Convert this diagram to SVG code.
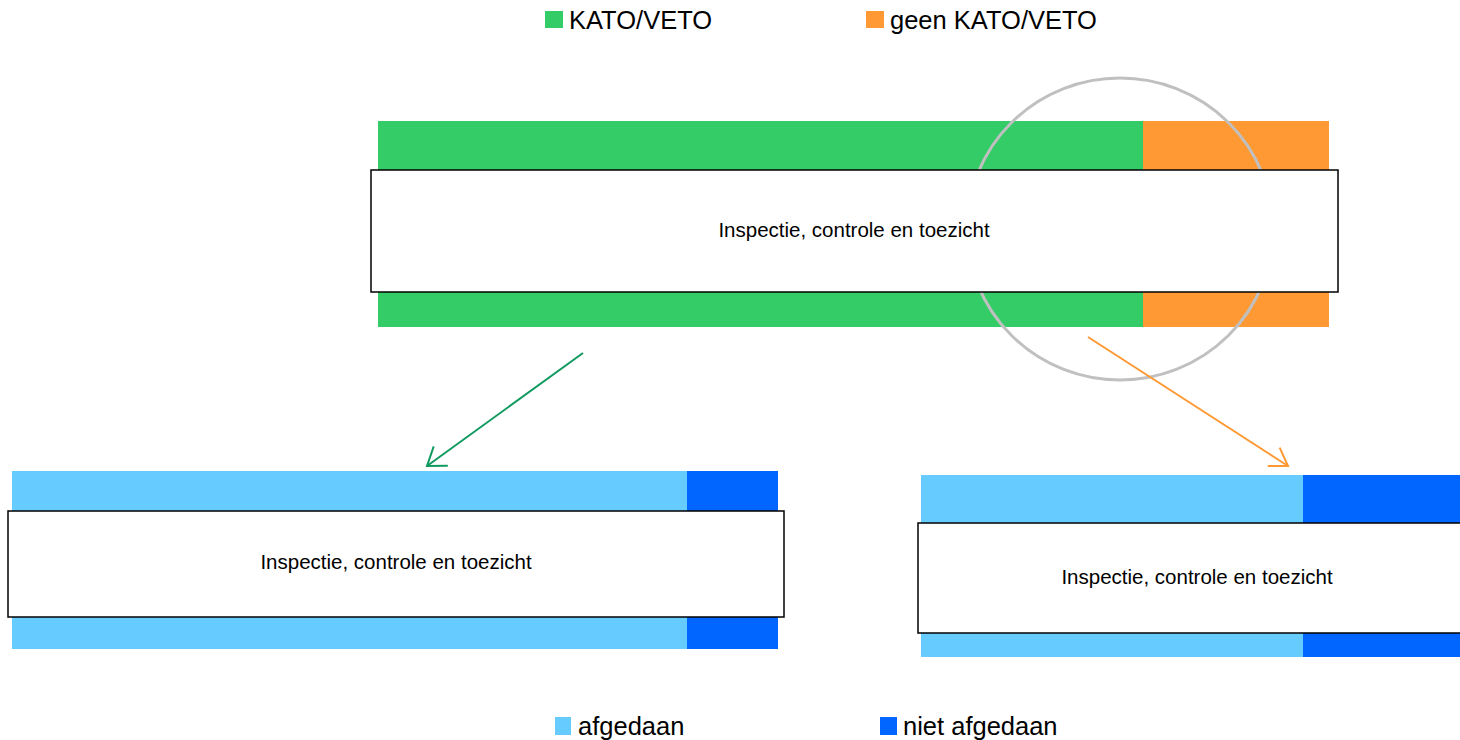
<svg xmlns="http://www.w3.org/2000/svg" width="1460" height="740" viewBox="0 0 1460 740">
<style>
.lbl{font-family:"Liberation Sans",Arial,sans-serif;font-size:25.5px;fill:#000}
.txt{font-family:"Liberation Sans",Arial,sans-serif;font-size:20.5px;fill:#000;text-anchor:middle}
.box{fill:#fff;stroke:#000;stroke-width:1.5}
.g{fill:#33CC66}.o{fill:#FF9933}.lb{fill:#66CCFF}.db{fill:#0066FF}
</style>
<defs>
<marker id="ag" markerUnits="userSpaceOnUse" viewBox="-22 -15 25 30" markerWidth="25" markerHeight="30" refX="0" refY="0" orient="auto">
<path d="M-17,-12 L0,0 L-17,12" fill="none" stroke="#109A60" stroke-width="2"/>
</marker>
<marker id="ao" markerUnits="userSpaceOnUse" viewBox="-22 -15 25 30" markerWidth="25" markerHeight="30" refX="0" refY="0" orient="auto">
<path d="M-17,-11 L0,0 L-17,11" fill="none" stroke="#FF9933" stroke-width="2"/>
</marker>
</defs>
<rect width="1460" height="740" fill="#fff"/>
<g id="legend-top">
<rect class="g" x="545" y="11" width="18" height="17"/>
<text class="lbl" x="569" y="29">KATO/VETO</text>
<rect class="o" x="866" y="11" width="18" height="17"/>
<text class="lbl" x="890" y="29">geen KATO/VETO</text>
</g>
<g id="node-top">
<rect class="g" x="378" y="121" width="765" height="206"/>
<rect class="o" x="1143" y="121" width="186" height="206"/>
<ellipse cx="1120" cy="229" rx="153" ry="151" fill="none" stroke="#C0C0C0" stroke-width="3"/>
<rect class="box" x="371" y="170" width="967" height="122"/>
<text class="txt" x="854" y="237">Inspectie, controle en toezicht</text>
</g>
<g id="node-left">
<rect class="lb" x="12" y="471" width="675" height="178"/>
<rect class="db" x="687" y="471" width="91" height="178"/>
<rect class="box" x="8" y="511" width="776" height="106"/>
<text class="txt" x="396" y="569">Inspectie, controle en toezicht</text>
</g>
<g id="node-right">
<rect class="lb" x="921" y="475" width="382" height="182"/>
<rect class="db" x="1303" y="475" width="160" height="182"/>
<rect class="box" x="918" y="523" width="560" height="110"/>
<text class="txt" x="1197" y="584">Inspectie, controle en toezicht</text>
</g>
<g id="connectors">
<line x1="583" y1="353" x2="427" y2="466" stroke="#109A60" stroke-width="2" marker-end="url(#ag)"/>
<line x1="1088" y1="337" x2="1288" y2="466" stroke="#FF9933" stroke-width="2" marker-end="url(#ao)"/>
</g>
<g id="legend-bottom">
<rect class="lb" x="555" y="717" width="16" height="18"/>
<text class="lbl" x="578" y="735">afgedaan</text>
<rect class="db" x="880" y="717" width="17" height="18"/>
<text class="lbl" x="903" y="735">niet afgedaan</text>
</g>
</svg>
